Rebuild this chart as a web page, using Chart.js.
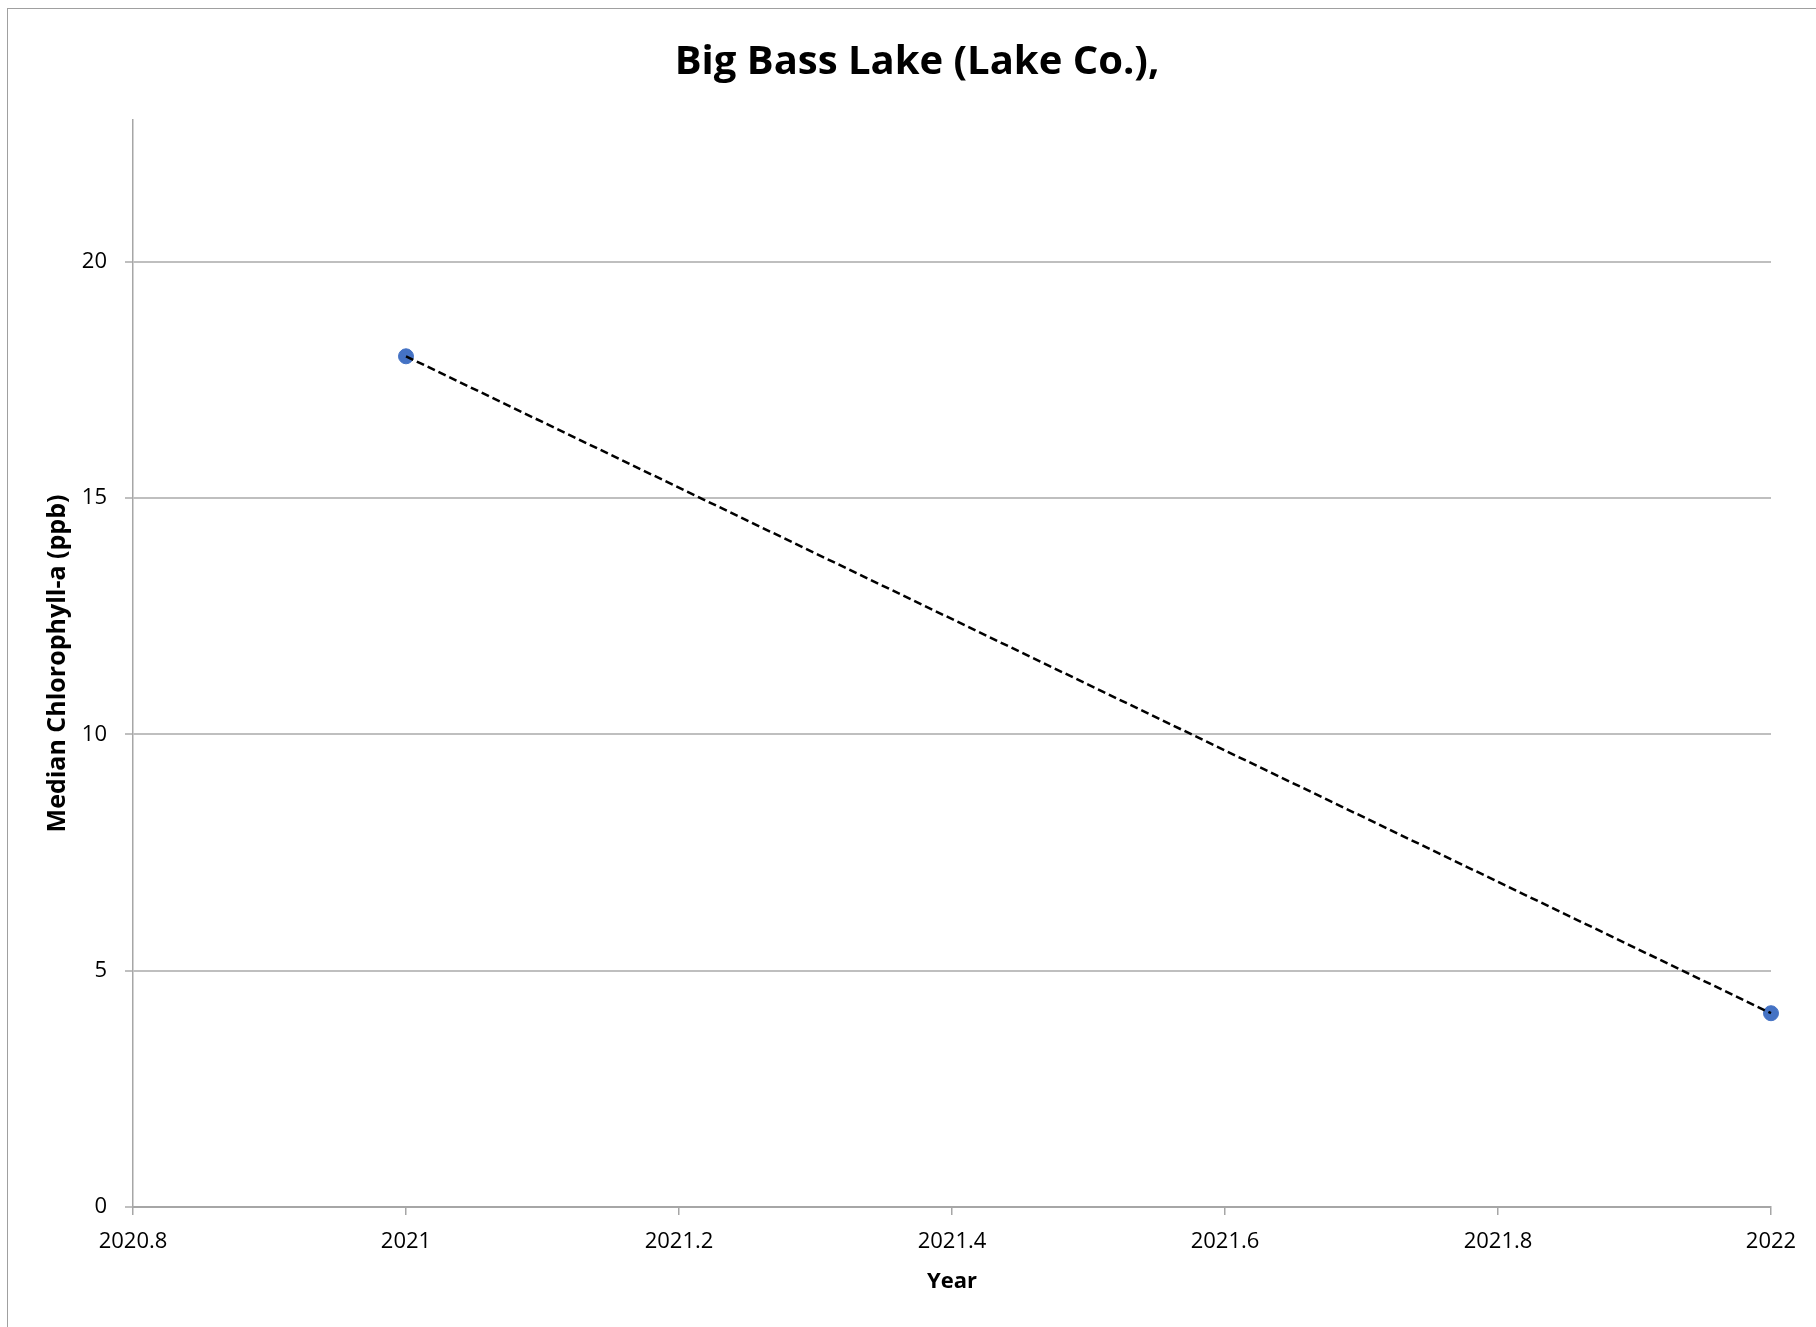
<!DOCTYPE html>
<html>
<head>
<meta charset="utf-8">
<script src="https://cdn.jsdelivr.net/npm/chart.js@4.4.1/dist/chart.umd.min.js"></script>
<style>
  html, body { margin: 0; padding: 0; background: #fff; overflow: hidden; }
  #frame {
    position: absolute; left: 7px; top: 8px;
    width: 1900px; height: 1400px;
    border: 1.5px solid #A0A0A0;
  }
  #chart { position: absolute; left: 0; top: 0; }
</style>
</head>
<body>
<div id="frame"></div>
<canvas id="chart" width="1816" height="1327"></canvas>
<script>
// ===========================
// DATA
// ===========================
const years = [2021, 2022];
const chlorophyll = [18, 4.1];
const xTicks = [2020.8, 2021, 2021.2, 2021.4, 2021.6, 2021.8, 2022];
const yTicks = [0, 5, 10, 15, 20];

const points = years.map((y, i) => ({ x: y, y: chlorophyll[i] }));

const gridGray = "#BFBFBF";
const axisGray = "#A6A6A6";
const font = "'Open Sans', 'Liberation Sans', sans-serif";

// ===========================
// CHART
// ===========================
new Chart(document.getElementById("chart").getContext("2d"), {
    type: "scatter",
    data: {
        datasets: [
            {
                label: "Trend",
                data: points,
                showLine: true,
                borderColor: "#000",
                borderWidth: 2.5,
                borderDash: [8, 4],
                pointRadius: 0,
                clip: false,
                order: 0
            },
            {
                label: "Median Chlorophyll-a",
                data: points,
                showLine: false,
                pointRadius: 7.5,
                pointBackgroundColor: "#4472C4",
                pointBorderColor: "#4472C4",
                clip: false,
                order: 1
            }
        ]
    },
    options: {
        responsive: false,
        animation: false,
        devicePixelRatio: 1,
        layout: { padding: { left: 18, right: 0, top: 0, bottom: 0 } },
        plugins: {
            legend: { display: false },
            tooltip: { enabled: false },
            title: {
                display: true,
                text: "Big Bass Lake (Lake Co.),",
                color: "#000",
                font: { family: font, size: 40, weight: "bold", lineHeight: 1.2 },
                padding: { top: 39, bottom: 33 }
            }
        },
        scales: {
            x: {
                type: "linear",
                min: 2020.8,
                max: 2022,
                afterBuildTicks: s => { s.ticks = xTicks.map(v => ({ value: v })); },
                afterFit: s => { s.height = 120; },
                grid: {
                    drawOnChartArea: false,
                    drawTicks: true,
                    tickLength: 8,
                    color: axisGray,
                    lineWidth: 1.5
                },
                border: { color: axisGray, width: 2 },
                ticks: {
                    autoSkip: false,
                    maxRotation: 0,
                    padding: 14,
                    color: "#000",
                    font: { family: font, size: 22 },
                    callback: v => String(v)
                },
                title: {
                    display: true,
                    text: "Year",
                    color: "#000",
                    font: { family: font, size: 22, weight: "bold", lineHeight: 1.2 },
                    padding: { top: 0, bottom: 32 }
                }
            },
            y: {
                min: 0,
                max: 23,
                afterBuildTicks: s => { s.ticks = yTicks.map(v => ({ value: v })); },
                afterFit: s => { s.width = 115; },
                grid: {
                    drawTicks: true,
                    tickLength: 8,
                    color: gridGray,
                    lineWidth: 2
                },
                border: { color: axisGray, width: 1.5 },
                ticks: {
                    padding: 18,
                    color: "#000",
                    font: { family: font, size: 22 },
                    callback: v => String(v)
                },
                title: {
                    display: true,
                    text: "Median Chlorophyll-a (ppb)",
                    color: "#000",
                    font: { family: font, size: 25, weight: "bold", lineHeight: 1.2 },
                    padding: { top: 25, bottom: 0 }
                }
            },
            // empty right-hand space so the plot ends where the reference's does
            yRight: {
                position: "right",
                display: true,
                afterFit: s => { s.width = 45; },
                grid: { display: false, drawTicks: false },
                border: { display: false },
                ticks: { display: false }
            }
        }
    }
});
</script>
</body>
</html>
